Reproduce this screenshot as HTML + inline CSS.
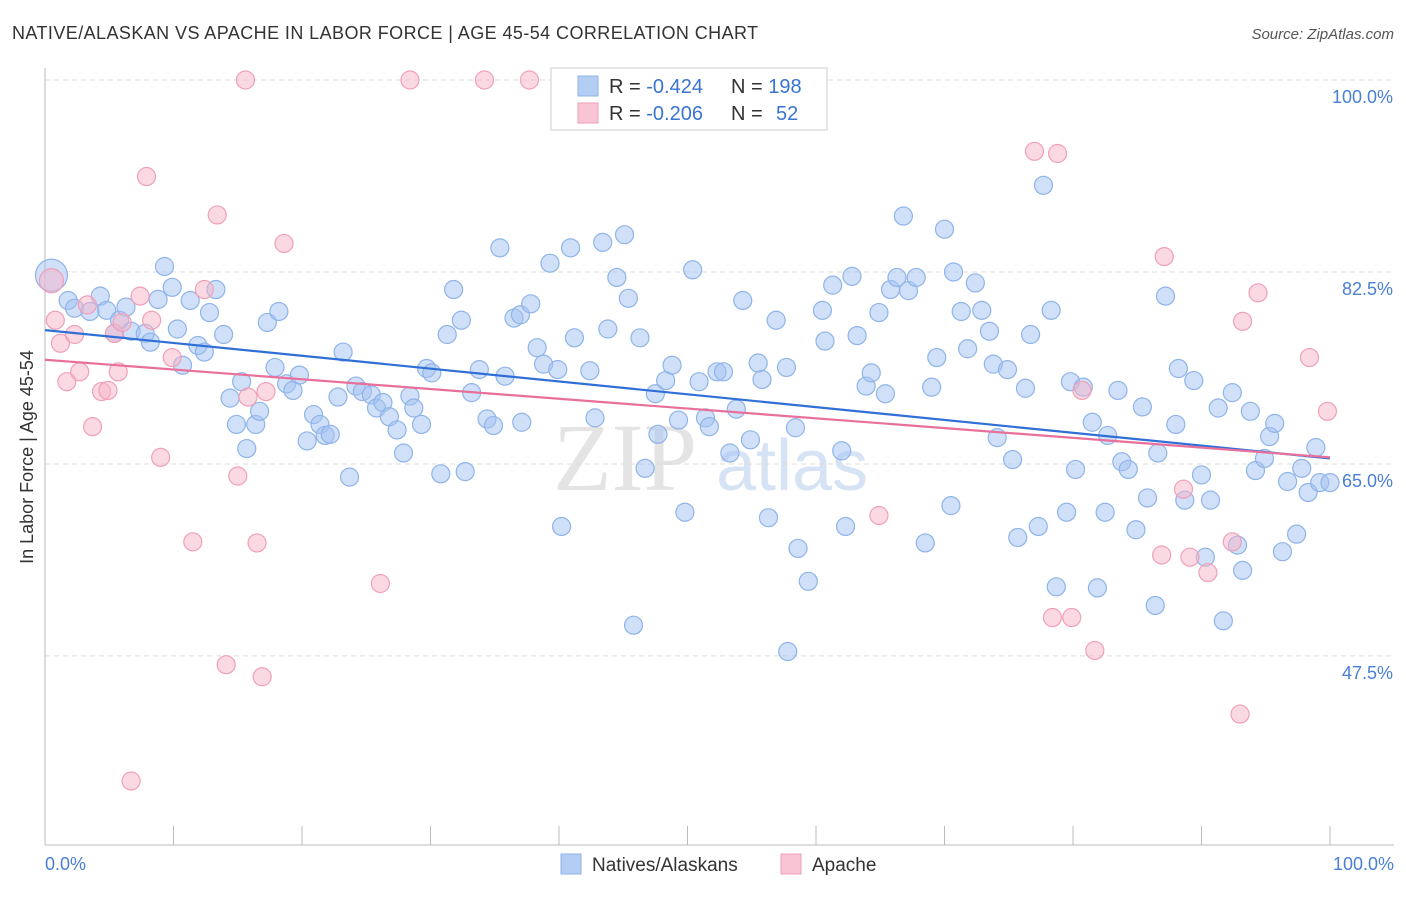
<!DOCTYPE html>
<html><head><meta charset="utf-8"><style>
body{margin:0;background:#fff;width:1406px;height:892px;overflow:hidden;font-family:"Liberation Sans",sans-serif}
</style></head><body>
<svg id="chart" width="1406" height="892" xmlns="http://www.w3.org/2000/svg">
<text x="12" y="39" font-size="18" fill="#333" letter-spacing="0.42">NATIVE/ALASKAN VS APACHE IN LABOR FORCE | AGE 45-54 CORRELATION CHART</text>
<text x="1394" y="39" font-size="15" fill="#555" font-style="italic" text-anchor="end">Source: ZipAtlas.com</text>
<g>
<text x="553" y="490" font-size="96" font-family="Liberation Serif,serif" fill="#e4e4e4">ZIP</text>
<text x="716" y="490" font-size="72" fill="#d6e3f5">atlas</text>
</g>
<g id="grid"></g>
<g id="axes"></g>
<g id="pts"></g>
<g id="trend"></g>
<text x="33" y="457" font-size="18" fill="#333" transform="rotate(-90 33 457)" text-anchor="middle">In Labor Force | Age 45-54</text>
<text x="45" y="870" font-size="18" fill="#4a7fd4">0.0%</text>
<text x="1394" y="870" font-size="18" fill="#4a7fd4" text-anchor="end">100.0%</text>
<g>
<rect x="551" y="68" width="276" height="62" fill="#fff" stroke="#ddd" stroke-width="1.5"/>
<rect x="578" y="76" width="20" height="20" fill="#b3cdf3" stroke="#8fb4e8"/>
<rect x="578" y="103" width="20" height="20" fill="#f9c4d4" stroke="#f0a0b8"/>
<text x="609" y="93" font-size="20" fill="#333">R = <tspan fill="#3a74d0">-0.424</tspan></text>
<text x="731" y="93" font-size="20" fill="#333">N = <tspan fill="#3a74d0">198</tspan></text>
<text x="609" y="120" font-size="20" fill="#333">R = <tspan fill="#3a74d0">-0.206</tspan></text>
<text x="731" y="120" font-size="20" fill="#333">N = <tspan fill="#3a74d0" x="776">52</tspan></text>
</g>
<g>
<rect x="561" y="854" width="20" height="20" fill="#b3cdf3" stroke="#8fb4e8"/>
<text x="592" y="871" font-size="19" fill="#333">Natives/Alaskans</text>
<rect x="781" y="854" width="20" height="20" fill="#f9c4d4" stroke="#f0a0b8"/>
<text x="812" y="871" font-size="19" fill="#333">Apache</text>
</g>
</svg>
<script>
const yTicks=[100,82.5,65,47.5];
const yTickLabels=["100.0%","82.5%","65.0%","47.5%"];
const blueX=[0.5,1.8,2.3,3.5,4.3,4.8,5.4,5.8,6.3,6.7,7.8,8.2,8.8,9.3,9.9,10.3,10.7,11.3,11.9,12.4,12.8,13.3,13.9,14.4,14.9,15.3,15.7,16.4,16.7,17.3,17.9,18.2,18.8,19.3,19.8,20.4,20.9,21.4,21.8,22.2,22.8,23.2,23.7,24.2,24.7,25.4,25.8,26.3,26.8,27.4,27.9,28.4,28.7,29.3,29.7,30.1,30.8,31.3,31.8,32.4,32.7,33.2,33.8,34.4,34.9,35.4,35.8,36.5,37.0,37.1,37.8,38.3,38.8,39.3,39.9,40.2,40.9,41.2,42.4,42.8,43.4,43.8,44.5,45.1,45.4,45.8,46.3,46.7,47.5,47.7,48.3,48.8,49.3,49.8,50.4,50.9,51.4,51.7,52.3,52.8,53.3,53.8,54.3,54.9,55.5,55.8,56.3,56.9,57.7,57.8,58.4,58.6,59.4,60.5,60.7,61.3,62.0,62.3,62.8,63.2,63.9,64.3,64.9,65.4,65.8,66.3,66.8,67.2,67.8,68.5,69.0,69.4,70.0,70.5,70.7,71.3,71.8,72.4,72.9,73.5,73.8,74.1,74.9,75.3,75.7,76.3,76.7,77.3,77.7,78.3,78.7,79.5,79.8,80.2,80.8,81.5,81.9,82.5,82.7,83.5,83.8,84.3,84.9,85.4,85.8,86.4,86.6,87.2,88.0,88.2,88.7,89.4,90.0,90.3,90.7,91.3,91.7,92.4,92.8,93.2,93.8,94.2,94.9,95.3,95.7,96.3,96.7,97.4,97.8,98.3,98.9,99.2,100];
const blueY=[82.2,79.9,79.2,78.9,80.3,79.0,76.9,78.1,79.3,77.1,76.9,76.1,80.0,83.0,81.1,77.3,74.0,79.9,75.8,75.2,78.8,80.9,76.8,71.0,68.6,72.5,66.4,68.6,69.8,77.9,73.8,78.9,72.3,71.7,73.1,67.1,69.5,68.6,67.6,67.7,71.1,75.2,63.8,72.1,71.6,71.3,70.1,70.6,69.3,68.1,66.0,71.2,70.1,68.6,73.7,73.3,64.1,76.8,80.9,78.1,64.3,71.5,73.6,69.1,68.5,84.7,73.0,78.3,78.6,68.8,79.6,75.6,74.1,83.3,73.6,59.3,84.7,76.5,73.5,69.2,85.2,77.3,82.0,85.9,80.1,50.3,76.5,64.6,71.4,67.7,72.6,74.0,69.0,60.6,82.7,72.5,69.2,68.4,73.4,73.4,66.0,70.0,79.9,67.2,74.2,72.7,60.1,78.1,73.8,47.9,68.3,57.3,54.3,79.0,76.2,81.3,66.2,59.3,82.1,76.7,72.1,73.3,78.8,71.4,80.9,82.0,87.6,80.8,82.0,57.8,72.0,74.7,86.4,61.2,82.5,78.9,75.5,81.5,79.0,77.1,74.1,67.4,73.6,65.4,58.3,71.9,76.8,59.3,90.4,79.0,53.8,60.6,72.5,64.5,72.0,68.8,53.7,60.6,67.6,71.7,65.2,64.5,59.0,70.2,61.9,52.1,66.0,80.3,68.6,73.7,61.7,72.6,64.0,56.5,61.7,70.1,50.7,71.5,57.6,55.3,69.8,64.4,65.5,67.5,68.7,57.0,63.4,58.6,64.6,62.4,66.5,63.3,63.3];
const pinkX=[0.5,0.8,1.2,1.7,2.3,2.7,3.7,3.3,4.4,4.9,5.7,5.4,6.0,6.7,7.4,7.9,8.3,9.0,9.9,11.5,12.4,13.4,14.1,15.0,15.6,15.8,16.5,16.9,17.2,18.6,26.1,28.4,34.2,37.7,64.9,77.0,78.8,78.4,79.9,80.7,81.7,87.1,86.9,88.6,89.1,90.5,92.4,93.0,93.2,94.4,98.4,99.8];
const pinkY=[81.7,78.1,76.0,72.5,76.8,73.4,68.4,79.5,71.6,71.7,73.4,76.9,77.9,36.1,80.3,91.2,78.1,65.6,74.7,57.9,80.9,87.7,46.7,63.9,100,71.1,57.8,45.6,71.6,85.1,54.1,100,100,100,60.3,93.5,93.3,51.0,51.0,71.7,48.0,83.9,56.7,62.7,56.5,55.1,57.9,42.2,78.0,80.6,74.7,69.8];
const blueTrend=[77.2,65.5];
const pinkTrend=[74.5,65.6];

const NS="http://www.w3.org/2000/svg";
const X=v=>45+v*12.85;
const Y=v=>80+(100-v)*10.97;
function mk(tag,attrs,parent){const e=document.createElementNS(NS,tag);for(const k in attrs)e.setAttribute(k,attrs[k]);parent.appendChild(e);return e;}
const grid=document.getElementById('grid'),axes=document.getElementById('axes'),pts=document.getElementById('pts'),trend=document.getElementById('trend');
yTicks.forEach((t,i)=>{
 const l=mk('line',{x1:45,x2:1394,y1:Y(t),y2:Y(t),stroke:'#ddd','stroke-dasharray':'5,4'},grid);
 
 
 const tx=mk('text',{x:1393,y:Y(t)+23,'font-size':18,fill:'#4a7fd4','text-anchor':'end'},axes);
 tx.textContent=yTickLabels[i];
 
 
});
const ya=mk('line',{x1:45,x2:45,y1:68,y2:845,stroke:'#bbb'},axes);


const xa=mk('line',{x1:45,x2:1394,y1:845,y2:845,stroke:'#bbb'},axes);


for(let i=0;i<=10;i++){
 const t=mk('line',{x1:X(i*10),x2:X(i*10),y1:826,y2:845,stroke:'#bbb'},axes);
 
 
}
function dots(xs,ys,fill,stroke,name){
 xs.forEach((x,i)=>{
  const r=(i===0)?(name==='native-point'?16:12):9;
  const c=mk('circle',{cx:X(x),cy:Y(ys[i]),r:r,fill:fill,stroke:stroke,'stroke-width':1.2},pts);
  
  
 });
}
dots(blueX,blueY,'rgba(164,194,244,0.5)','#8fb4e8','native-point');
dots(pinkX,pinkY,'rgba(248,180,200,0.5)','#f0a0b8','apache-point');
const bl=mk('line',{x1:X(0),x2:X(100),y1:Y(blueTrend[0]),y2:Y(blueTrend[1]),stroke:'#2f6fd6','stroke-width':2.2},trend);


const pl=mk('line',{x1:X(0),x2:X(100),y1:Y(pinkTrend[0]),y2:Y(pinkTrend[1]),stroke:'#e8709a','stroke-width':2.2},trend);


</script>
</body></html>
